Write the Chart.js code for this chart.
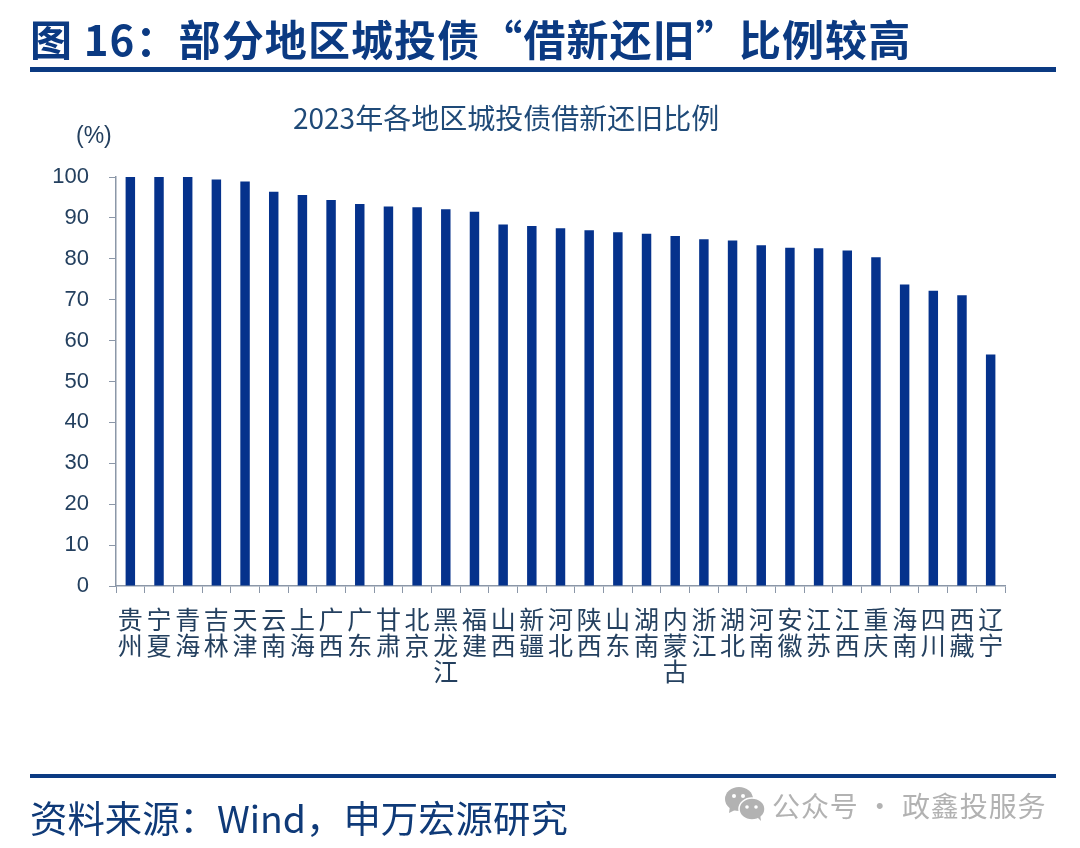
<!DOCTYPE html>
<html>
<head>
<meta charset="utf-8">
<script src="https://cdn.jsdelivr.net/npm/chart.js@4/dist/chart.umd.min.js"></script>
<style>
html,body{margin:0;padding:0;background:#fff;}
#page{position:relative;width:1080px;height:848px;overflow:hidden;font-family:"Noto Sans CJK SC",sans-serif;}
#page div{position:absolute;white-space:nowrap;}
canvas{position:absolute;left:0;top:0;}
#heading{left:30px;top:8px;font-size:42px;line-height:60px;font-weight:700;color:#0b3a82;letter-spacing:1.1px;}
#rule1{left:30px;top:67px;width:1026px;height:5px;background:#0b3a82;}
#rule2{left:30px;top:774px;width:1026px;height:4px;background:#0b3a82;}
#ctitle{left:293px;top:98px;font-size:28px;line-height:38px;color:#1f4a78;}
#unit{left:76px;top:121px;font-size:23px;line-height:28px;color:#24405f;font-family:"Liberation Sans",sans-serif;}
#source{left:30px;top:792px;font-size:37.4px;line-height:50px;color:#0f3a78;}
#mark{left:772px;top:785px;font-size:28px;line-height:40px;color:#b2b2b2;letter-spacing:0.9px;}
#wx{position:absolute;left:724px;top:786px;}
</style>
</head>
<body>
<div id="page">
<canvas id="chart" width="1080" height="848"></canvas>
<div id="heading">图 16：部分地区城投债“借新还旧”比例较高</div>
<div id="rule1"></div>
<div id="ctitle">2023年各地区城投债借新还旧比例</div>
<div id="unit">(%)</div>
<div id="rule2"></div>
<div id="source">资料来源：Wind，申万宏源研究</div>
<svg id="wx" width="42" height="36" viewBox="0 0 42 36">
<ellipse cx="15" cy="13" rx="14" ry="12" fill="#b2b2b2"/>
<path d="M6 20 L5 27 L13 23 Z" fill="#b2b2b2"/>
<ellipse cx="28" cy="23" rx="13" ry="11" fill="#b2b2b2" stroke="#fff" stroke-width="1.5"/>
<path d="M33 31 L37 35 L36 28 Z" fill="#b2b2b2"/>
<circle cx="10" cy="10" r="2" fill="#fff"/><circle cx="19" cy="10" r="2" fill="#fff"/>
<circle cx="23" cy="21" r="1.8" fill="#fff"/><circle cx="32" cy="21" r="1.8" fill="#fff"/>
</svg>
<div id="mark">公众号 · 政鑫投服务</div>
</div>
<script>
const regions = ["贵州","宁夏","青海","吉林","天津","云南","上海","广西","广东","甘肃","北京","黑龙江","福建","山西","新疆","河北","陕西","山东","湖南","内蒙古","浙江","湖北","河南","安徽","江苏","江西","重庆","海南","四川","西藏","辽宁"];
const ratios = [100,100,100,99.4,98.9,96.4,95.6,94.4,93.4,92.8,92.6,92.1,91.5,88.4,88,87.5,87,86.5,86.1,85.6,84.8,84.5,83.3,82.7,82.6,82,80.4,73.7,72.2,71.1,56.6];
const yTicks = [0,10,20,30,40,50,60,70,80,90,100];

const axisColor = "#8b97a8";
const textColor = "#24405f";

new Chart(document.getElementById("chart"),{
type:"bar",
data:{
labels:regions.map(r=>r.split("")),
datasets:[{
data:ratios,
backgroundColor:"#05328c",
barPercentage:0.33,
categoryPercentage:1
}]
},
options:{
responsive:false,
animation:false,
layout:{padding:{left:0,right:75,top:177,bottom:0}},
plugins:{legend:{display:false},tooltip:{enabled:false}},
scales:{
x:{
afterFit:s=>{s.height=848-177-409;},
border:{color:axisColor,width:1.5},
grid:{display:true,drawOnChartArea:false,drawTicks:true,tickLength:7,color:axisColor},
ticks:{
autoSkip:false,
maxRotation:0,
minRotation:0,
padding:13,
color:textColor,
font:{family:'"Noto Sans CJK SC"',size:25,lineHeight:1.04}
}
},
y:{
min:0,
max:100,
afterFit:s=>{s.width=116;},
afterBuildTicks:s=>{s.ticks=yTicks.map(v=>({value:v}));},
border:{color:axisColor,width:1.5},
grid:{display:true,drawOnChartArea:false,drawTicks:true,tickLength:7,color:axisColor},
ticks:{
padding:20,
color:textColor,
font:{family:'"Liberation Sans"',size:22}
}
}
}
}
});
</script>
</body>
</html>
